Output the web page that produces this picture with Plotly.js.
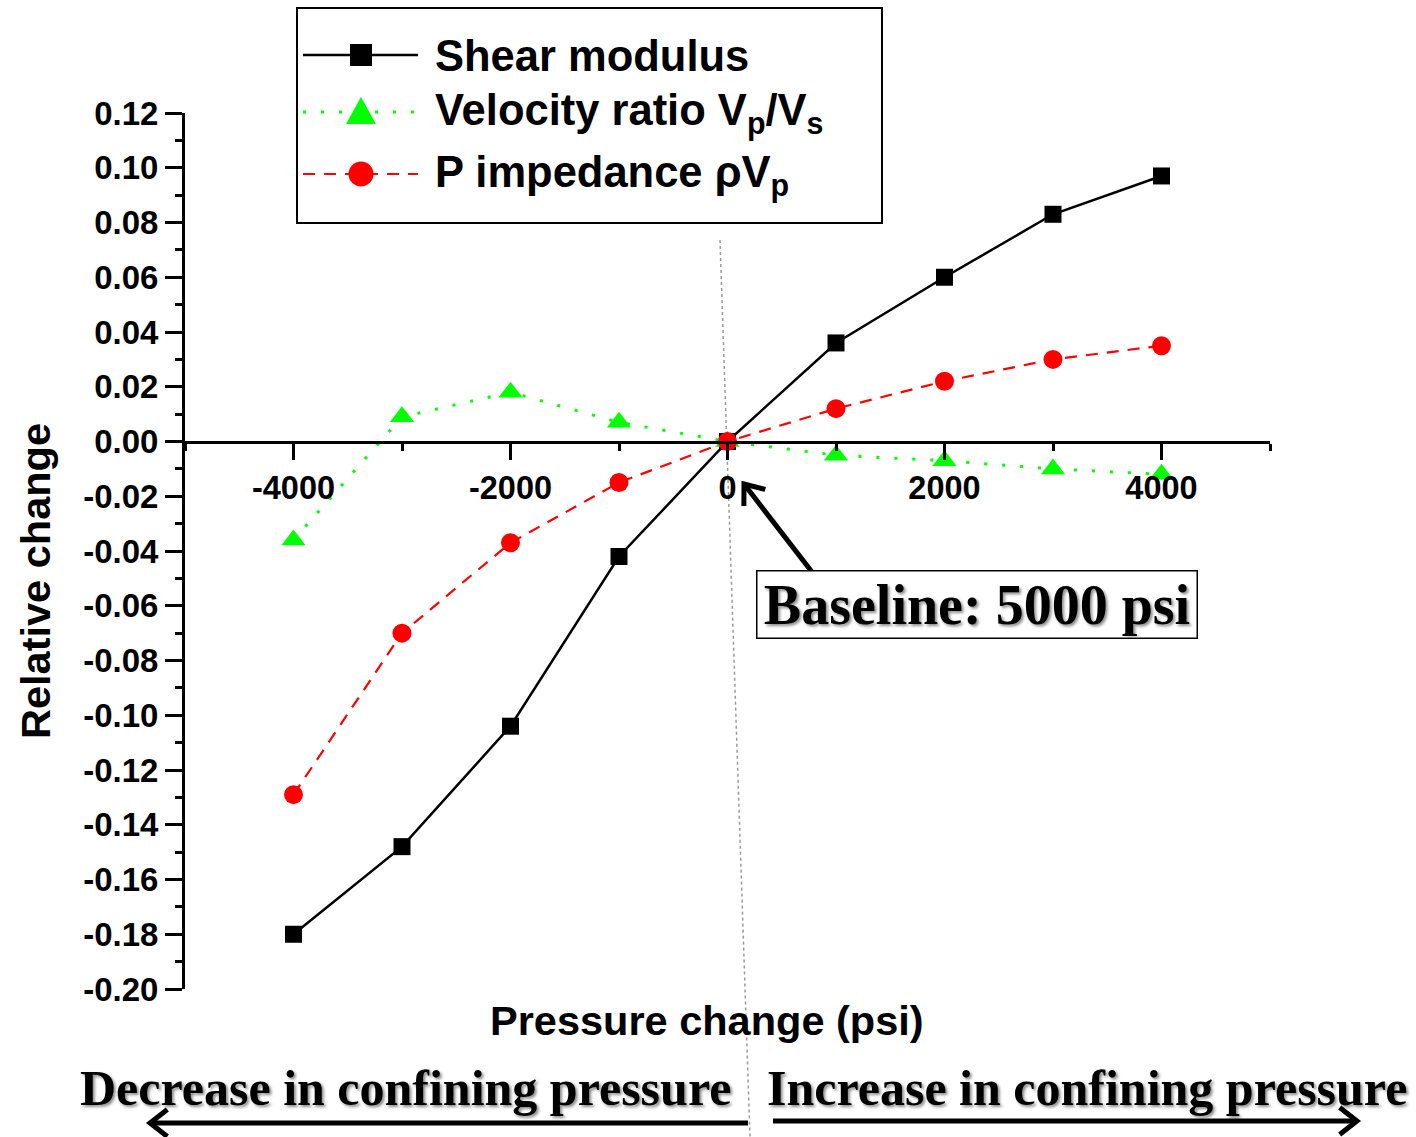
<!DOCTYPE html>
<html>
<head>
<meta charset="utf-8">
<script src="https://cdn.plot.ly/plotly-3.0.1.min.js"></script>
<style>html,body{margin:0;padding:0;background:#fff;}#chart{width:1416px;height:1137px;}</style>
</head>
<body>
<div id="chart"></div>
<script>
// ---- data ----
const pressureChange = [-4000, -3000, -2000, -1000, 0, 1000, 2000, 3000, 4000];
const shearModulus   = [-0.180, -0.148, -0.104, -0.042, 0.000, 0.036, 0.060, 0.083, 0.097];
const velocityRatio  = [-0.036, 0.009, 0.018, 0.007, 0.000, -0.005, -0.007, -0.010, -0.012];
const pImpedance     = [-0.129, -0.070, -0.037, -0.015, 0.000, 0.012, 0.022, 0.030, 0.035];

const seriesNames = ['Shear modulus', 'Velocity ratio V<sub>p</sub>/V<sub>s</sub>', 'P impedance \u03c1V<sub>p</sub>'];

const xTickVals = [-4000, -2000, 0, 2000, 4000];
const xTickText = ['-4000', '-2000', '0', '2000', '4000'];
const yTickVals = [-0.20, -0.18, -0.16, -0.14, -0.12, -0.10, -0.08, -0.06, -0.04, -0.02, 0.00, 0.02, 0.04, 0.06, 0.08, 0.10, 0.12];
const yTickText = ['-0.20', '-0.18', '-0.16', '-0.14', '-0.12', '-0.10', '-0.08', '-0.06', '-0.04', '-0.02', '0.00', '0.02', '0.04', '0.06', '0.08', '0.10', '0.12'];

const xTitle = 'Pressure change (psi)';
const yTitle = 'Relative change';
const baselineNote = 'Baseline: 5000 psi';
const leftNote = 'Decrease in confining pressure';
const rightNote = 'Increase in confining pressure';

// ---- layout geometry (pixels) ----
const W = 1416, H = 1137;
const L = 185, R = 1270, T = 113, B = 989;
const PX = p => (p - L) / (R - L);
const PY = p => (B - p) / (B - T);

const SANS = 'Liberation Sans, Arial, sans-serif';
const SERIF = 'Liberation Serif, Times New Roman, serif';
const GREEN = '#00ff00', RED = '#ff0000';
const GREEN_DASH = '3px,15px';
const RED_DASH = '12px,9px';

const traces = [
  { x: pressureChange, y: shearModulus, name: seriesNames[0], mode: 'lines+markers',
    line: { color: '#000', width: 2.5 }, marker: { symbol: 'square', size: 17, color: '#000' }, showlegend: false },
  { x: pressureChange, y: velocityRatio, name: seriesNames[1], mode: 'lines+markers',
    line: { color: GREEN, width: 3, dash: GREEN_DASH }, marker: { symbol: 'triangle-up', size: 21, color: GREEN }, showlegend: false },
  { x: pressureChange, y: pImpedance, name: seriesNames[2], mode: 'lines+markers',
    line: { color: RED, width: 2.2, dash: RED_DASH }, marker: { symbol: 'circle', size: 19, color: RED }, showlegend: false }
];

// ---- manual legend ----
const legRows = [55, 112, 174];
const legLineX0 = 303, legLineX1 = 418, legMarkX = 361, legTextX = 433;
const shapes = [];
const annotations = [];

shapes.push({ type: 'rect', xref: 'paper', yref: 'paper', x0: PX(297), x1: PX(882), y0: PY(8), y1: PY(223),
  line: { color: '#000', width: 2 }, fillcolor: 'rgba(255,255,255,1)', layer: 'above' });
const legStyles = [
  { color: '#000', dash: 'solid', width: 2.5 },
  { color: GREEN, dash: GREEN_DASH, width: 3 },
  { color: RED, dash: RED_DASH, width: 2.2 }
];
legRows.forEach((yy, i) => {
  shapes.push({ type: 'line', xref: 'paper', yref: 'paper', x0: PX(legLineX0), x1: PX(legLineX1), y0: PY(yy), y1: PY(yy),
    line: legStyles[i], layer: 'above' });
  annotations.push({ xref: 'paper', yref: 'paper', x: PX(legTextX), y: PY(yy + 1), xanchor: 'left', yanchor: 'middle',
    text: seriesNames[i], showarrow: false, font: { family: SANS, size: 43.5, color: '#000', weight: 'bold' } });
});
// legend markers
{
  const s = 11, y0 = legRows[0];
  shapes.push({ type: 'rect', xref: 'paper', yref: 'paper', x0: PX(legMarkX - s), x1: PX(legMarkX + s), y0: PY(y0 - s), y1: PY(y0 + s),
    fillcolor: '#000', line: { width: 0 }, layer: 'above' });
  const y1 = legRows[1];
  const tri = `M ${PX(legMarkX)} ${PY(y1 - 15)} L ${PX(legMarkX - 15)} ${PY(y1 + 12)} L ${PX(legMarkX + 15)} ${PY(y1 + 12)} Z`;
  shapes.push({ type: 'path', xref: 'paper', yref: 'paper', path: tri, fillcolor: GREEN, line: { width: 0 }, layer: 'above' });
  const r = 12.5, y2 = legRows[2];
  shapes.push({ type: 'circle', xref: 'paper', yref: 'paper', x0: PX(legMarkX - r), x1: PX(legMarkX + r), y0: PY(y2 - r), y1: PY(y2 + r),
    fillcolor: RED, line: { width: 0 }, layer: 'above' });
}

// dotted near-vertical guide line
shapes.push({ type: 'line', xref: 'paper', yref: 'paper', x0: PX(720), y0: PY(240), x1: PX(750), y1: PY(1137),
  line: { color: '#9a9a9a', width: 1.5, dash: 'dot' }, layer: 'below' });

// arrows drawn as shapes (shaft + open chevron head)
function arrow(tx, ty, hx, hy, width, headLen, headAng) {
  const dx = tx - hx, dy = ty - hy, len = Math.hypot(dx, dy);
  const ux = dx / len, uy = dy / len;
  const a = headAng * Math.PI / 180;
  const rot = (x, y, t) => [x * Math.cos(t) - y * Math.sin(t), x * Math.sin(t) + y * Math.cos(t)];
  const [p1x, p1y] = rot(ux, uy, a), [p2x, p2y] = rot(ux, uy, -a);
  shapes.push({ type: 'line', xref: 'paper', yref: 'paper', x0: PX(tx), y0: PY(ty), x1: PX(hx + ux * 2), y1: PY(hy + uy * 2),
    line: { color: '#000', width: width }, layer: 'above' });
  const path = `M ${PX(hx + p1x * headLen)} ${PY(hy + p1y * headLen)} L ${PX(hx)} ${PY(hy)} L ${PX(hx + p2x * headLen)} ${PY(hy + p2y * headLen)}`;
  shapes.push({ type: 'path', xref: 'paper', yref: 'paper', path: path,
    line: { color: '#000', width: width }, layer: 'above' });
}
arrow(812, 572, 744, 484, 5, 22, 38);
arrow(748, 1123, 150, 1123, 5, 22, 38);
arrow(773, 1121, 1357, 1121, 5, 22, 38);

// axis titles
annotations.push({ xref: 'paper', yref: 'paper', x: PX(707), y: PY(1020), xanchor: 'center', yanchor: 'middle',
  text: xTitle, showarrow: false, font: { family: SANS, size: 41.5, color: '#000', weight: 'bold' } });
annotations.push({ xref: 'paper', yref: 'paper', x: PX(35), y: PY(581), xanchor: 'center', yanchor: 'middle',
  text: yTitle, textangle: -90, showarrow: false, font: { family: SANS, size: 41.5, color: '#000', weight: 'bold' } });

// baseline note box
annotations.push({ xref: 'paper', yref: 'paper', x: PX(977), y: PY(604), xanchor: 'center', yanchor: 'middle',
  text: baselineNote, showarrow: false, width: 437, height: 64, borderpad: 1,
  bordercolor: '#000', borderwidth: 1.5, bgcolor: '#fff',
  font: { family: SERIF, size: 56, color: '#000', weight: 'bold', shadow: '2px 2px 3px rgba(0,0,0,0.45)' } });

// bottom notes
annotations.push({ xref: 'paper', yref: 'paper', x: PX(405), y: PY(1088), xanchor: 'center', yanchor: 'middle',
  text: leftNote, showarrow: false,
  font: { family: SERIF, size: 50, color: '#000', weight: 'bold', shadow: '2px 2px 3px rgba(0,0,0,0.45)' } });
annotations.push({ xref: 'paper', yref: 'paper', x: PX(1087), y: PY(1088), xanchor: 'center', yanchor: 'middle',
  text: rightNote, showarrow: false,
  font: { family: SERIF, size: 50, color: '#000', weight: 'bold', shadow: '2px 2px 3px rgba(0,0,0,0.45)' } });

const layout = {
  width: W, height: H,
  margin: { l: L, r: W - R, t: T, b: H - B, pad: 0 },
  paper_bgcolor: '#fff', plot_bgcolor: '#fff',
  showlegend: false,
  xaxis: {
    range: [-5000, 5000], anchor: 'free', position: 0.625,
    showline: true, linecolor: '#000', linewidth: 3, showgrid: false, zeroline: false,
    tickmode: 'array', tickvals: xTickVals, ticktext: xTickText,
    ticks: 'outside', ticklen: 16, tickwidth: 3, tickcolor: '#000',
    minor: { dtick: 1000, tick0: 0, ticks: 'outside', ticklen: 7, tickwidth: 3, tickcolor: '#000', showgrid: false },
    tickfont: { family: SANS, size: 32.5, color: '#000', weight: 'bold' },
    fixedrange: true
  },
  yaxis: {
    range: [-0.20, 0.12],
    showline: true, linecolor: '#000', linewidth: 3, showgrid: false, zeroline: false,
    tickmode: 'array', tickvals: yTickVals, ticktext: yTickText,
    ticks: 'outside', ticklen: 17, tickwidth: 3, tickcolor: '#000',
    minor: { dtick: 0.01, tick0: 0, ticks: 'outside', ticklen: 7, tickwidth: 3, tickcolor: '#000', showgrid: false },
    tickfont: { family: SANS, size: 33, color: '#000', weight: 'bold' },
    fixedrange: true
  },
  shapes: shapes,
  annotations: annotations
};

Plotly.newPlot('chart', traces, layout, { displayModeBar: false, staticPlot: true });
</script>
</body>
</html>
